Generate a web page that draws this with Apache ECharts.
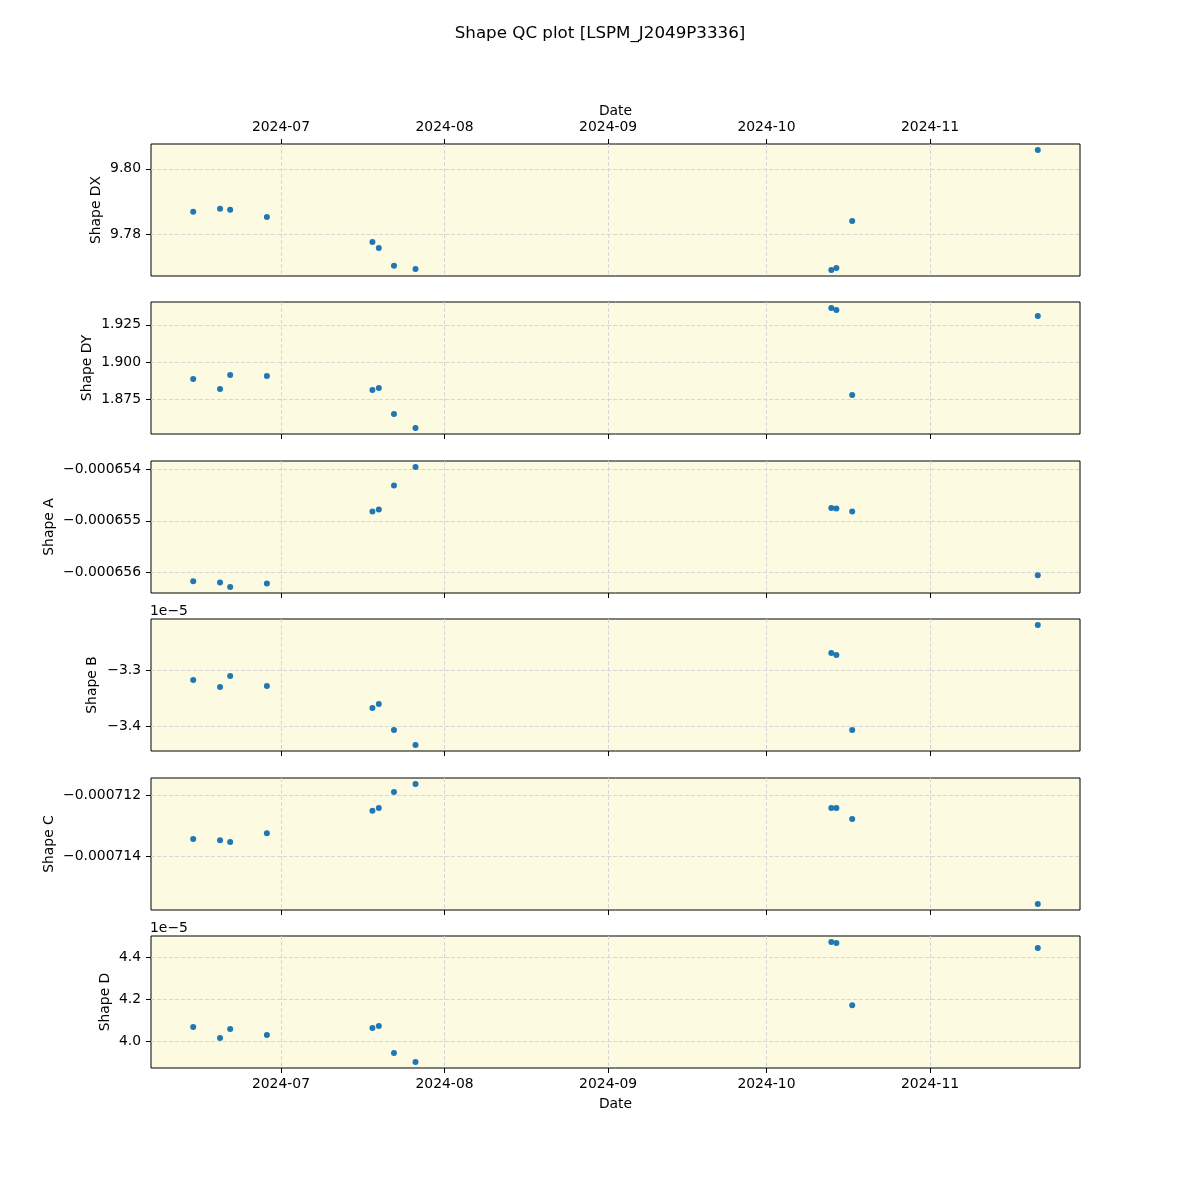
<!DOCTYPE html>
<html><head><meta charset="utf-8">
<script src="https://cdn.jsdelivr.net/npm/echarts@6/dist/echarts.min.js"></script>
<style>html,body{margin:0;padding:0;background:#fff}#c{width:1200px;height:1200px}</style>
</head><body><div id="c"></div>
<script>
// ---- data ----
const dates = ['2024-06-14T09:00','2024-06-19T11:00','2024-06-21T09:00','2024-06-28T08:00',
  '2024-07-18T08:00','2024-07-19T13:00','2024-07-22T10:00','2024-07-26T12:00',
  '2024-10-13T07:00','2024-10-14T06:00','2024-10-17T06:00','2024-11-21T10:00'];
const shapeDX = [9.7868, 9.7877, 9.7874, 9.7852, 9.7775, 9.7757, 9.7702, 9.7692, 9.7689, 9.7695, 9.7840, 9.8058];
const shapeDY = [1.8886, 1.8819, 1.8913, 1.8906, 1.8812, 1.8825, 1.8651, 1.8557, 1.9363, 1.9349, 1.8778, 1.9309];
const shapeA = [-0.00065618, -0.00065620, -0.00065629, -0.00065622, -0.00065482, -0.00065478, -0.00065431, -0.00065395, -0.00065475, -0.00065476, -0.00065482, -0.00065606];
const shapeB = [-3.3168e-5, -3.3295e-5, -3.3096e-5, -3.3277e-5, -3.3675e-5, -3.3602e-5, -3.4072e-5, -3.4344e-5, -3.2680e-5, -3.2716e-5, -3.4072e-5, -3.2174e-5];
const shapeC = [-0.00071344, -0.00071348, -0.00071354, -0.00071325, -0.00071252, -0.00071243, -0.00071190, -0.00071164, -0.00071243, -0.00071243, -0.00071279, -0.00071557];
const shapeD = [4.0695e-5, 4.0175e-5, 4.0600e-5, 4.0317e-5, 4.0648e-5, 4.0742e-5, 3.9466e-5, 3.9040e-5, 4.4709e-5, 4.4662e-5, 4.1716e-5, 4.4426e-5];

const monthTicks = ['2024-07-01T00:00','2024-08-01T00:00','2024-09-01T00:00','2024-10-01T00:00','2024-11-01T00:00'];
const xRange = ['2024-06-06T09:00','2024-11-29T10:00'];
const dxTicks = [9.78, 9.80];
const dyTicks = [1.875, 1.900, 1.925];
const aTicks = [-0.000656, -0.000655, -0.000654];
const bTicks = [-3.4e-5, -3.3e-5];
const cTicks = [-0.000714, -0.000712];
const dTicks = [4.0e-5, 4.2e-5, 4.4e-5];
const panelNames = ['Shape DX','Shape DY','Shape A','Shape B','Shape C','Shape D'];
const titleText = 'Shape QC plot [LSPM_J2049P3336]';
const offsetText = '1e\u22125';

// ---- build ----
const FONT = 'DejaVu Sans';
const toMs = s => new Date(s).getTime();
const panels = [
  {name: panelNames[0], data: shapeDX, ticks: dxTicks, dec: 2, scale: 1, gap: 48},
  {name: panelNames[1], data: shapeDY, ticks: dyTicks, dec: 3, scale: 1, gap: 57},
  {name: panelNames[2], data: shapeA, ticks: aTicks, dec: 6, scale: 1, gap: 95},
  {name: panelNames[3], data: shapeB, ticks: bTicks, dec: 1, scale: 1e-5, gap: 52},
  {name: panelNames[4], data: shapeC, ticks: cTicks, dec: 6, scale: 1, gap: 95},
  {name: panelNames[5], data: shapeD, ticks: dTicks, dec: 1, scale: 1e-5, gap: 39}
];
const tops = [144, 302, 461, 619, 778, 936];
const H = 132;

function fmtNum(v, dec, scale) {
  let s = (v / scale).toFixed(dec);
  if (parseFloat(s) === 0) s = (0).toFixed(dec);
  return s.replace('-', '\u2212');
}
function fmtMonth(v) {
  const d = new Date(v);
  return d.getFullYear() + '-' + String(d.getMonth() + 1).padStart(2, '0');
}
const monthMs = monthTicks.map(toMs);

const grids = [], xAxes = [], yAxes = [], series = [];
panels.forEach((p, i) => {
  grids.push({left: 151, right: 120, top: tops[i], height: H, show: true,
    backgroundColor: '#fcfbe2', borderColor: '#000', borderWidth: 1, containLabel: false});
  const isTop = i === 0, isBottom = i === panels.length - 1;
  xAxes.push({
    type: 'value', gridIndex: i, min: toMs(xRange[0]), max: toMs(xRange[1]),
    position: isTop ? 'top' : 'bottom',
    name: (isTop || isBottom) ? 'Date' : '',
    nameLocation: 'middle', nameGap: isTop ? 26 : 29,
    nameTextStyle: {fontFamily: FONT, fontSize: 13.9, color: '#000'},
    axisLine: {show: false},
    axisTick: {show: true, length: 5, lineStyle: {color: '#000', width: 1}, customValues: monthMs},
    axisLabel: {show: isTop || isBottom, customValues: monthMs, formatter: fmtMonth,
      fontFamily: FONT, fontSize: 13.9, color: '#000', margin: isTop ? 10 : 9},
    splitLine: {show: true, lineStyle: {color: '#d3d3d3', type: [4, 2], width: 0.9}}
  });
  const vmin = Math.min(...p.data), vmax = Math.max(...p.data);
  const pad = (vmax - vmin) * 0.05;
  yAxes.push({
    type: 'value', gridIndex: i, min: vmin - pad, max: vmax + pad,
    name: p.name, nameLocation: 'middle', nameGap: p.gap, nameMoveOverlap: false,
    nameTextStyle: {fontFamily: FONT, fontSize: 13.9, color: '#000'},
    axisLine: {show: false},
    axisTick: {show: true, length: 5, lineStyle: {color: '#000', width: 1}, customValues: p.ticks},
    axisLabel: {customValues: p.ticks, formatter: v => fmtNum(v, p.dec, p.scale),
      fontFamily: FONT, fontSize: 13.9, color: '#000', margin: 10},
    splitLine: {show: true, lineStyle: {color: '#d3d3d3', type: [4, 2], width: 0.9}}
  });
  series.push({
    type: 'scatter', xAxisIndex: i, yAxisIndex: i,
    data: dates.map((d, k) => [toMs(d), p.data[k]]),
    symbolSize: 6, itemStyle: {color: '#1f77b4', opacity: 1},
    animation: false
  });
});

const chart = echarts.init(document.getElementById('c'), null, {renderer: 'canvas'});
chart.setOption({
  animation: false,
  backgroundColor: '#fff',
  title: [
    {text: titleText, left: 'center', top: 20, textStyle: {fontFamily: FONT, fontSize: 16.7, fontWeight: 'normal', color: '#000'}},
    {text: offsetText, left: 150, top: 604, textStyle: {fontFamily: FONT, fontSize: 13.9, fontWeight: 'normal', color: '#000'}, padding: 0},
    {text: offsetText, left: 150, top: 921, textStyle: {fontFamily: FONT, fontSize: 13.9, fontWeight: 'normal', color: '#000'}, padding: 0}
  ],
  grid: grids, xAxis: xAxes, yAxis: yAxes, series: series
});
</script></body></html>
